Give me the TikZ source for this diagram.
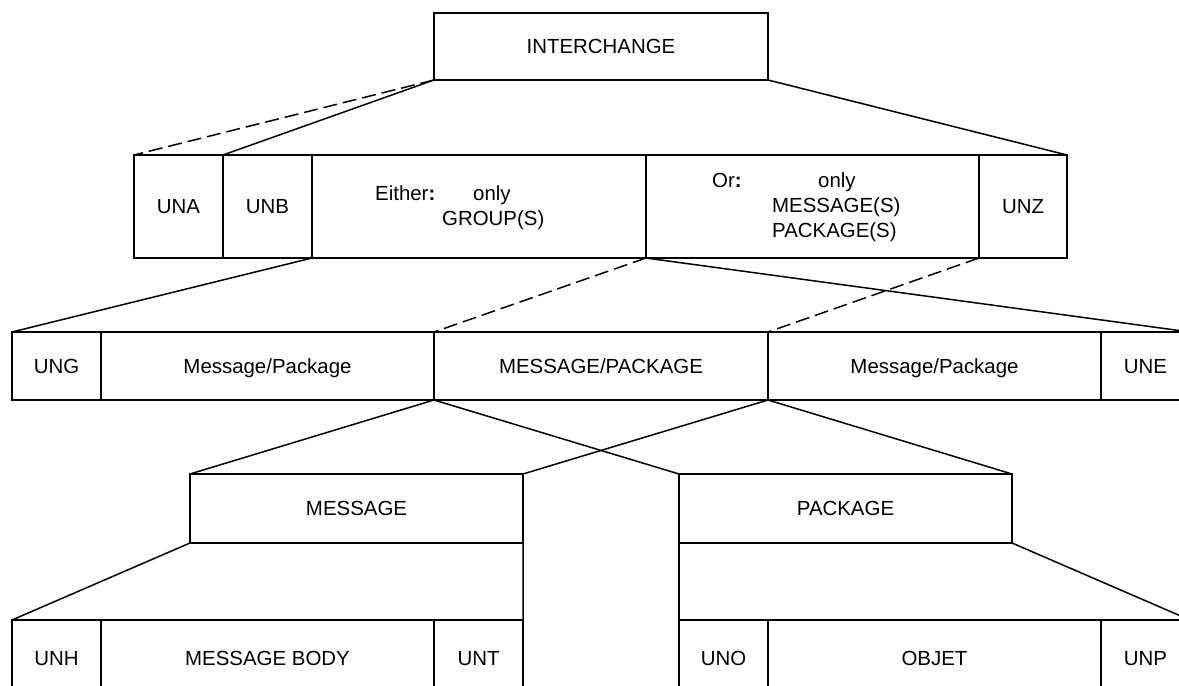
\documentclass[tikz,border=0pt]{standalone}
\usepackage{fontspec}
\setmainfont{Liberation Sans}
\begin{document}
\begin{tikzpicture}[x=1bp,y=-1bp,
  cell/.style={draw, line width=1.7bp, rectangle, inner sep=0pt, outer sep=0pt, anchor=north west,
     text height=14.7bp, text depth=0pt, font=\fontsize{20.5}{24}\selectfont},
  txt/.style={inner sep=0pt, anchor=base west, font=\fontsize{20.5}{24}\selectfont},
  link/.style={line width=1.5bp},
  dlink/.style={line width=1.5bp, dash pattern=on 14bp off 6bp}]
\useasboundingbox (0,0) rectangle (1179,686);
\clip (0,0) rectangle (1179,686);
% row 1
\node[cell, minimum width=334bp, minimum height=67bp] (ich) at (434,13) {INTERCHANGE};
% row 2
\node[cell, minimum width=89bp, minimum height=103bp] (una) at (134,155) {UNA};
\node[cell, minimum width=89bp, minimum height=103bp] (unb) at (223,155) {UNB};
\node[cell, minimum width=334bp, minimum height=103bp] (either) at (312,155) {};
\node[cell, minimum width=333bp, minimum height=103bp] (or) at (646,155) {};
\node[cell, minimum width=88bp, minimum height=103bp] (unz) at (979,155) {UNZ};
\node[txt] (eitherA) at (375,201) {Either\textbf{:}};
\node[txt] (eitherB) at (473,201) {only};
\node[txt] (eitherC) at (442,226) {GROUP(S)};
\node[txt] (orA) at (712,188) {Or\textbf{:}};
\node[txt] (orB) at (818,188) {only};
\node[txt] (orC) at (772,213) {MESSAGE(S)};
\node[txt] (orD) at (772,237) {PACKAGE(S)};
% row 3
\node[cell, minimum width=89bp, minimum height=68bp] (ung) at (12,332) {UNG};
\node[cell, minimum width=333bp, minimum height=68bp] (mp1) at (101,332) {Message/Package};
\node[cell, minimum width=334bp, minimum height=68bp] (mp2) at (434,332) {MESSAGE/PACKAGE};
\node[cell, minimum width=333bp, minimum height=68bp] (mp3) at (768,332) {Message/Package};
\node[cell, minimum width=89bp, minimum height=68bp] (une) at (1101,332) {UNE};
% row 4
\node[cell, minimum width=333bp, minimum height=69bp] (msg) at (190,474) {MESSAGE};
\node[cell, minimum width=333bp, minimum height=69bp] (pkg) at (679,474) {PACKAGE};
% row 5
\node[cell, minimum width=89bp, minimum height=76bp] (unh) at (12,620) {UNH};
\node[cell, minimum width=333bp, minimum height=76bp] (body) at (101,620) {MESSAGE BODY};
\node[cell, minimum width=89bp, minimum height=76bp] (unt) at (434,620) {UNT};
\node[cell, minimum width=89bp, minimum height=76bp] (uno) at (679,620) {UNO};
\node[cell, minimum width=333bp, minimum height=76bp] (objet) at (768,620) {OBJET};
\node[cell, minimum width=89bp, minimum height=76bp] (unp) at (1101,620) {UNP};
% connectors
\draw[dlink] (ich.south west) -- (una.north west);
\draw[link] (ich.south west) -- (unb.north west);
\draw[link] (ich.south east) -- (unz.north east);
\draw[link] (either.south west) -- (ung.north west);
\draw[dlink] (or.south west) -- (mp2.north west);
\draw[link] (or.south west) -- (une.north east);
\draw[dlink] (unz.south west) -- (mp3.north west);
\draw[link] (mp2.south west) -- (msg.north west);
\draw[link] (mp2.south west) -- (pkg.north west);
\draw[link] (mp3.south west) -- (msg.north east);
\draw[link] (mp3.south west) -- (pkg.north east);
\draw[link] (msg.south west) -- (unh.north west);
\draw[link] (msg.south east) -- (unt.north east);
\draw[link] (pkg.south west) -- (uno.north west);
\draw[link] (pkg.south east) -- (unp.north east);
\end{tikzpicture}
\end{document}
